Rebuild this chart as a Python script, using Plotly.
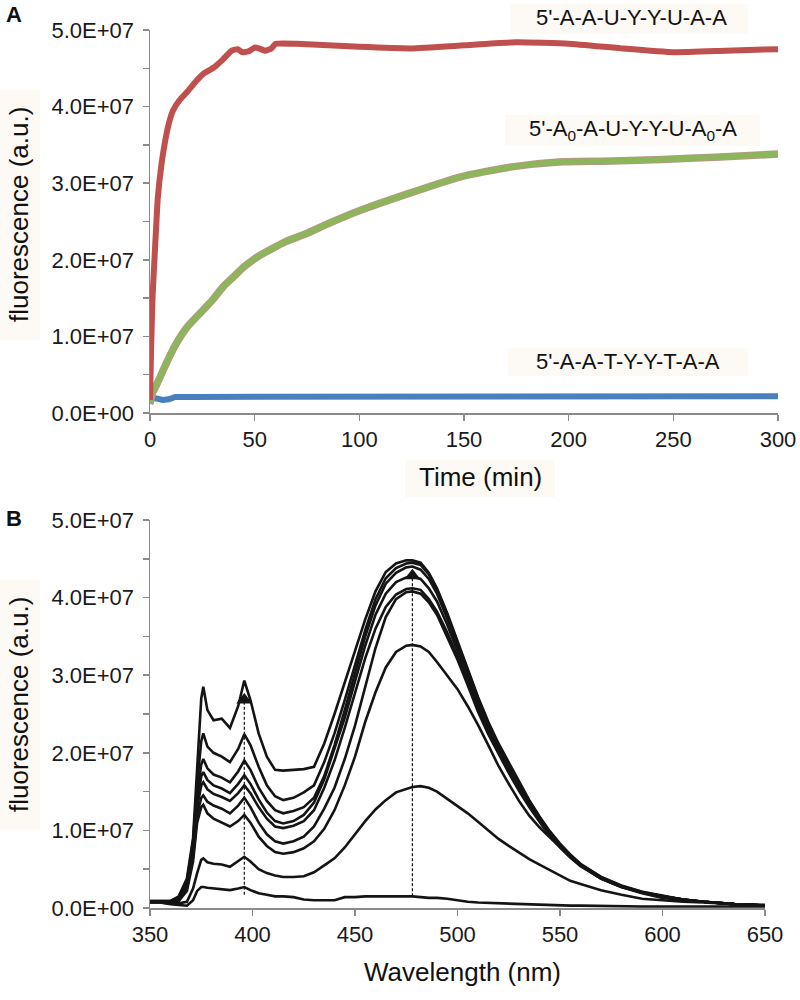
import plotly.graph_objects as go

# ---------------- Panel A data (fluorescence vs time) ----------------
time_red = [0, 0.5, 1.2, 2.5, 3.7, 5.5, 7.3, 9, 11, 14, 18, 22, 25.6, 30.5, 35, 39, 42, 44, 47, 50,
            52, 55, 58, 60, 70, 85, 100, 125, 150, 175, 200, 225, 250, 275, 300]
fluor_red = [0.17e7, 0.8e7, 1.5e7, 2.2e7, 2.8e7, 3.25e7, 3.56e7, 3.78e7, 3.95e7, 4.08e7, 4.2e7, 4.33e7,
             4.43e7, 4.51e7, 4.62e7, 4.73e7, 4.75e7, 4.71e7, 4.72e7, 4.77e7, 4.76e7, 4.73e7, 4.76e7,
             4.82e7, 4.82e7, 4.80e7, 4.78e7, 4.76e7, 4.80e7, 4.84e7, 4.82e7, 4.76e7, 4.71e7, 4.73e7, 4.75e7]

time_green = [0, 1.2, 3, 5, 8.5, 12, 18, 25.6, 30, 35, 40, 45, 52, 60, 65, 74.5, 85, 99, 123, 148,
              172, 197, 221, 245, 270, 300]
fluor_green = [0.12e7, 0.26e7, 0.36e7, 0.48e7, 0.69e7, 0.88e7, 1.13e7, 1.35e7, 1.48e7, 1.65e7, 1.78e7,
               1.91e7, 2.05e7, 2.17e7, 2.24e7, 2.34e7, 2.47e7, 2.63e7, 2.86e7, 3.08e7, 3.21e7, 3.28e7,
               3.29e7, 3.31e7, 3.34e7, 3.38e7]

time_blue = [0, 1, 3, 6, 9, 12, 20, 40, 60, 100, 150, 200, 250, 300]
fluor_blue = [0.12e7, 0.2e7, 0.19e7, 0.17e7, 0.18e7, 0.21e7, 0.21e7, 0.21e7, 0.22e7, 0.22e7, 0.22e7,
              0.22e7, 0.22e7, 0.22e7]

label_red = "5'-A-A-U-Y-Y-U-A-A"
label_green = "5'-A<sub>0</sub>-A-U-Y-Y-U-A<sub>0</sub>-A"
label_blue = "5'-A-A-T-Y-Y-T-A-A"

time_ticks = [0, 50, 100, 150, 200, 250, 300]
fluor_ticks = [0, 0.5e7, 1e7, 1.5e7, 2e7, 2.5e7, 3e7, 3.5e7, 4e7, 4.5e7, 5e7]
fluor_ticktext = ["0.0E+00", " ", "1.0E+07", " ", "2.0E+07", " ", "3.0E+07", " ", "4.0E+07", " ", "5.0E+07"]

# ---------------- Panel B data (emission spectra, units of 1E7) ----------------
wavelength = [350, 355, 360, 364, 368, 371, 373, 375, 376, 378, 381, 385, 389, 393, 396, 399, 403, 407,
              411, 415, 420, 425, 430, 435, 440, 445, 450, 455, 460, 465, 470, 475, 478, 482, 486, 490,
              495, 500, 505, 510, 515, 520, 525, 530, 535, 540, 545, 550, 555, 560, 570, 580, 590, 600,
              610, 620, 635, 650]

spectrum_1 = [0.09, 0.09, 0.09, 0.15, 0.38, 0.9, 1.8, 2.7, 2.85, 2.55, 2.42, 2.44, 2.32, 2.6, 2.93, 2.68,
              2.25, 1.95, 1.78, 1.77, 1.78, 1.79, 1.82, 2.12, 2.50, 2.90, 3.30, 3.72, 4.08, 4.33, 4.44,
              4.48, 4.48, 4.45, 4.32, 4.12, 3.80, 3.45, 3.08, 2.72, 2.40, 2.12, 1.87, 1.62, 1.39, 1.18,
              0.99, 0.83, 0.69, 0.57, 0.40, 0.29, 0.21, 0.16, 0.11, 0.08, 0.05, 0.03]
spectrum_2 = [0.09, 0.09, 0.09, 0.14, 0.35, 0.85, 1.6, 2.15, 2.25, 2.08, 2.0, 1.95, 1.88, 2.05, 2.24, 2.10,
              1.82, 1.58, 1.44, 1.39, 1.42, 1.49, 1.58, 1.88, 2.25, 2.68, 3.12, 3.58, 3.98, 4.25, 4.38,
              4.44, 4.45, 4.42, 4.30, 4.10, 3.78, 3.43, 3.06, 2.70, 2.38, 2.10, 1.85, 1.60, 1.38, 1.17,
              0.98, 0.82, 0.68, 0.56, 0.40, 0.28, 0.21, 0.15, 0.11, 0.08, 0.05, 0.03]
spectrum_3 = [0.08, 0.08, 0.08, 0.13, 0.32, 0.8, 1.45, 1.85, 1.92, 1.80, 1.72, 1.68, 1.62, 1.76, 1.90, 1.78,
              1.55, 1.38, 1.26, 1.22, 1.25, 1.30, 1.42, 1.70, 2.10, 2.55, 3.02, 3.50, 3.90, 4.18, 4.32,
              4.39, 4.40, 4.36, 4.24, 4.05, 3.73, 3.38, 3.02, 2.67, 2.35, 2.08, 1.83, 1.58, 1.36, 1.16,
              0.97, 0.81, 0.67, 0.56, 0.39, 0.28, 0.20, 0.15, 0.11, 0.08, 0.05, 0.03]
spectrum_4 = [0.08, 0.08, 0.08, 0.12, 0.30, 0.75, 1.35, 1.70, 1.75, 1.65, 1.58, 1.54, 1.48, 1.60, 1.71, 1.60,
              1.40, 1.23, 1.12, 1.09, 1.12, 1.20, 1.36, 1.66, 2.05, 2.45, 2.92, 3.38, 3.78, 4.05, 4.20,
              4.26, 4.27, 4.24, 4.12, 3.95, 3.65, 3.32, 2.97, 2.62, 2.31, 2.05, 1.80, 1.56, 1.34, 1.14,
              0.96, 0.80, 0.67, 0.55, 0.39, 0.28, 0.20, 0.15, 0.11, 0.08, 0.05, 0.03]
spectrum_5 = [0.08, 0.08, 0.08, 0.11, 0.28, 0.7, 1.3, 1.58, 1.62, 1.53, 1.47, 1.43, 1.38, 1.48, 1.58, 1.48,
              1.30, 1.15, 1.05, 1.03, 1.06, 1.12, 1.26, 1.55, 1.90, 2.32, 2.78, 3.22, 3.60, 3.88, 4.04,
              4.11, 4.12, 4.10, 3.98, 3.82, 3.55, 3.24, 2.90, 2.56, 2.26, 2.00, 1.76, 1.53, 1.32, 1.12,
              0.94, 0.79, 0.66, 0.55, 0.38, 0.27, 0.20, 0.15, 0.11, 0.08, 0.05, 0.03]
spectrum_6 = [0.08, 0.08, 0.07, 0.10, 0.25, 0.65, 1.2, 1.42, 1.45, 1.37, 1.32, 1.28, 1.22, 1.32, 1.42, 1.30,
              1.10, 0.95, 0.86, 0.83, 0.86, 0.92, 1.05, 1.28, 1.55, 1.92, 2.35, 2.85, 3.35, 3.75, 3.98,
              4.07, 4.08, 4.05, 3.94, 3.78, 3.50, 3.20, 2.87, 2.53, 2.24, 1.98, 1.74, 1.51, 1.30, 1.11,
              0.93, 0.78, 0.65, 0.54, 0.38, 0.27, 0.20, 0.15, 0.10, 0.08, 0.05, 0.03]
spectrum_7 = [0.08, 0.08, 0.07, 0.09, 0.22, 0.6, 1.1, 1.30, 1.33, 1.22, 1.15, 1.10, 1.05, 1.12, 1.20, 1.10,
              0.92, 0.80, 0.72, 0.70, 0.72, 0.77, 0.86, 1.02, 1.26, 1.58, 1.95, 2.40, 2.78, 3.10, 3.30,
              3.38, 3.39, 3.37, 3.30, 3.17, 3.00, 2.82, 2.60, 2.36, 2.10, 1.83, 1.60, 1.38, 1.19, 1.04,
              0.91, 0.78, 0.66, 0.55, 0.38, 0.27, 0.19, 0.13, 0.10, 0.08, 0.05, 0.03]
spectrum_8 = [0.07, 0.07, 0.06, 0.06, 0.08, 0.25, 0.45, 0.62, 0.64, 0.59, 0.57, 0.56, 0.53, 0.60, 0.66, 0.60,
              0.50, 0.45, 0.42, 0.40, 0.40, 0.41, 0.46, 0.55, 0.64, 0.78, 0.95, 1.12, 1.27, 1.39, 1.49,
              1.54, 1.56, 1.57, 1.55, 1.50, 1.41, 1.32, 1.22, 1.11, 1.00, 0.89, 0.80, 0.71, 0.63, 0.56,
              0.49, 0.41, 0.35, 0.31, 0.23, 0.17, 0.12, 0.10, 0.08, 0.07, 0.05, 0.04]
spectrum_9 = [0.07, 0.07, 0.05, 0.04, 0.03, 0.10, 0.22, 0.27, 0.27, 0.26, 0.25, 0.24, 0.23, 0.25, 0.27, 0.23,
              0.19, 0.17, 0.15, 0.15, 0.14, 0.11, 0.10, 0.10, 0.10, 0.14, 0.14, 0.15, 0.15, 0.155, 0.155,
              0.15, 0.15, 0.14, 0.13, 0.13, 0.12, 0.10, 0.08, 0.07, 0.065, 0.06, 0.055, 0.05, 0.045, 0.04,
              0.035, 0.03, 0.03, 0.03, 0.025, 0.025, 0.02, 0.02, 0.02, 0.02, 0.02, 0.02]
spectra = [spectrum_1, spectrum_2, spectrum_3, spectrum_4, spectrum_5, spectrum_6, spectrum_7,
           spectrum_8, spectrum_9]
spectrum_scale = 1e7

arrow_wavelength = [396, 478]
arrow_base = [0.17e7, 0.15e7]
arrow_tip = [2.68e7, 4.28e7]

wl_ticks = [350, 400, 450, 500, 550, 600, 650]

# ---------------- Styling ----------------
FONT = "Liberation Sans, Arial, Helvetica, sans-serif"
AXIS_GREY = "#8a8a8a"
RED = "#c0504d"
GREEN = "#8db55a"
GREEN_EDGE = "#b49a86"
BLUE = "#4a7fbd"
INK = "#141414"

fig = go.Figure()

# Panel A traces
fig.add_trace(go.Scatter(x=time_blue, y=fluor_blue, mode="lines", line=dict(color=BLUE, width=6),
                         xaxis="x", yaxis="y", hoverinfo="skip"))
fig.add_trace(go.Scatter(x=time_green, y=fluor_green, mode="lines",
                         line=dict(color=GREEN_EDGE, width=7.5, shape="spline", smoothing=0.6),
                         xaxis="x", yaxis="y", hoverinfo="skip"))
fig.add_trace(go.Scatter(x=time_green, y=fluor_green, mode="lines",
                         line=dict(color=GREEN, width=5.5, shape="spline", smoothing=0.6),
                         xaxis="x", yaxis="y", hoverinfo="skip"))
fig.add_trace(go.Scatter(x=time_red, y=fluor_red, mode="lines",
                         line=dict(color=RED, width=6, shape="spline", smoothing=0.4),
                         xaxis="x", yaxis="y", hoverinfo="skip"))

# Panel B traces
for spec in spectra:
    fig.add_trace(go.Scatter(x=wavelength, y=[v * spectrum_scale for v in spec], mode="lines",
                             line=dict(color=INK, width=2.6),
                             xaxis="x2", yaxis="y2", hoverinfo="skip"))
for wl, yb, yt in zip(arrow_wavelength, arrow_base, arrow_tip):
    fig.add_trace(go.Scatter(x=[wl, wl], y=[yb, yt], mode="lines",
                             line=dict(color=INK, width=1.2, dash="3px,2px"),
                             xaxis="x2", yaxis="y2", hoverinfo="skip"))
fig.add_trace(go.Scatter(x=arrow_wavelength, y=arrow_tip, mode="markers",
                         marker=dict(symbol="triangle-up", size=14, color=INK),
                         xaxis="x2", yaxis="y2", hoverinfo="skip"))

axis_common = dict(showline=True, linecolor=AXIS_GREY, linewidth=1.5, ticks="outside", ticklen=6,
                   tickwidth=1.5, tickcolor=AXIS_GREY, showgrid=False, zeroline=False, automargin=False,
                   tickfont=dict(family=FONT, size=22, color="#1a1a1a"), fixedrange=True)

fig.update_layout(
    template="none",
    width=800, height=1000,
    margin=dict(l=0, r=0, t=0, b=0),
    paper_bgcolor="white", plot_bgcolor="white",
    showlegend=False,
    xaxis=dict(domain=[150 / 800, 778 / 800], range=[0, 300], tickmode="array", tickvals=time_ticks,
               anchor="y", **axis_common),
    yaxis=dict(domain=[1 - 413 / 1000, 1 - 30 / 1000], range=[0, 5e7], tickmode="array",
               tickvals=fluor_ticks, ticktext=fluor_ticktext, anchor="x", ticklabelstandoff=4,
               **axis_common),
    xaxis2=dict(domain=[150 / 800, 765 / 800], range=[350, 650], tickmode="array", tickvals=wl_ticks,
                anchor="y2", **axis_common),
    yaxis2=dict(domain=[1 - 908 / 1000, 1 - 520 / 1000], range=[0, 5e7], tickmode="array",
                tickvals=fluor_ticks, ticktext=fluor_ticktext, anchor="x2", ticklabelstandoff=4,
                **axis_common),
)

# faint label backgrounds (as in the scanned figure)
BOX = "#fdf9f4"
for x0, y0, x1, y1 in [(405, 460, 555, 497), (510, 4, 748, 34), (505, 115, 760, 146),
                       (508, 348, 748, 376), (0, 90, 40, 340), (0, 580, 40, 830)]:
    fig.add_shape(type="rect", xref="paper", yref="paper", x0=x0 / 800, x1=x1 / 800,
                  y0=1 - y1 / 1000, y1=1 - y0 / 1000, fillcolor=BOX, line=dict(width=0), layer="below")

def ann(text, x, y, size, bold=False, angle=0, xanchor="center"):
    fig.add_annotation(text=f"<b>{text}</b>" if bold else text, xref="paper", yref="paper",
                       x=x / 800, y=1 - y / 1000, showarrow=False, textangle=angle,
                       xanchor=xanchor, yanchor="middle",
                       font=dict(family=FONT, size=size, color="#111"))

ann("A", 4, 14, 22, bold=True, xanchor="left")
ann("B", 4, 518, 22, bold=True, xanchor="left")
ann(label_red, 631, 17, 22)
ann(label_green, 633, 130, 22)
ann(label_blue, 628, 361, 22)
ann("fluorescence (a.u.)", 19, 215, 26, angle=-90)
ann("fluorescence (a.u.)", 19, 705, 26, angle=-90)
ann("Time (min)", 480, 477, 26)
ann("Wavelength (nm)", 462, 972, 26)

fig.write_html("out.html",
               config={"displayModeBar": False, "staticPlot": True},
               post_script="document.body.style.margin='0';document.body.style.padding='0';"
                           "document.body.style.overflow='hidden';")
